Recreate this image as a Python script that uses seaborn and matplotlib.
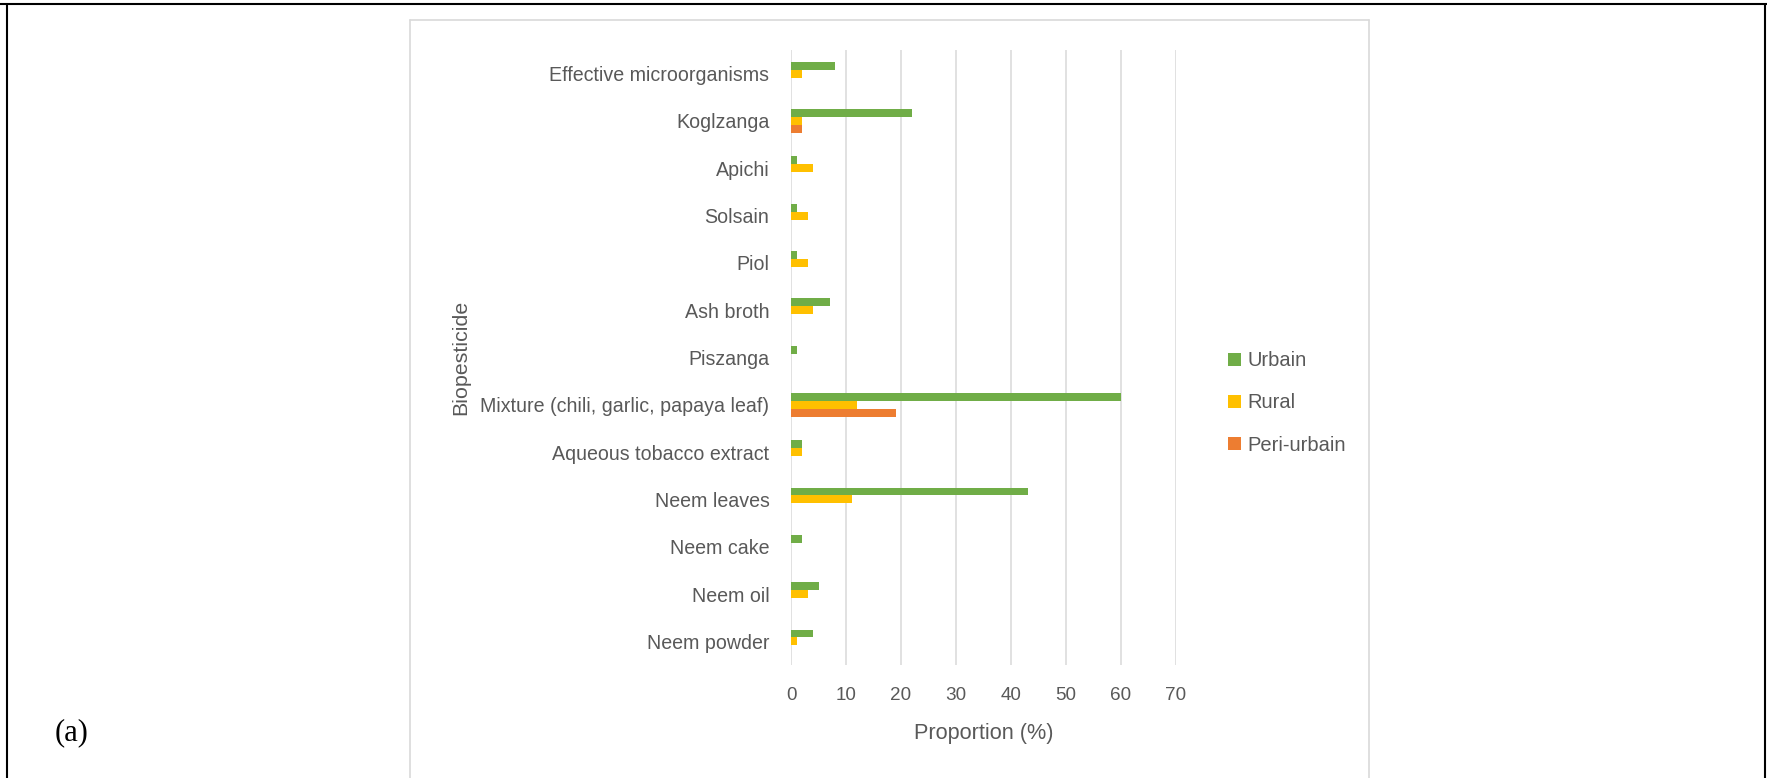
import matplotlib
matplotlib.use("Agg")
import matplotlib.pyplot as plt
from matplotlib.lines import Line2D
from matplotlib.patches import Patch
import seaborn as sns
import pandas as pd

# Biopesticides used, listed top to bottom
biopesticides = [
    "Effective microorganisms",
    "Koglzanga",
    "Apichi",
    "Solsain",
    "Piol",
    "Ash broth",
    "Piszanga",
    "Mixture (chili, garlic, papaya leaf)",
    "Aqueous tobacco extract",
    "Neem leaves",
    "Neem cake",
    "Neem oil",
    "Neem powder",
]
areas = ["Urbain", "Rural", "Peri-urbain"]

# Proportion of producers (%) per area
urbain = [8, 22, 1, 1, 1, 7, 1, 60, 2, 43, 2, 5, 4]
rural = [2, 2, 4, 3, 3, 4, 0, 12, 2, 11, 0, 3, 1]
peri_urbain = [0, 2, 0, 0, 0, 0, 0, 19, 0, 0, 0, 0, 0]

x_ticks = [0, 10, 20, 30, 40, 50, 60, 70]

colors = {"Urbain": "#70AD47", "Rural": "#FFC000", "Peri-urbain": "#ED7D31"}

df = pd.DataFrame({
    "Biopesticide": biopesticides * 3,
    "Area": [areas[0]] * len(urbain) + [areas[1]] * len(rural) + [areas[2]] * len(peri_urbain),
    "Proportion": urbain + rural + peri_urbain,
})

sns.set_theme(style="white")
plt.rcParams["font.family"] = ["Liberation Sans", "DejaVu Sans"]

W, H = 1767, 778
fig = plt.figure(figsize=(W / 100, H / 100), dpi=100)
ax = fig.add_axes([791 / W, 1 - 665 / H, (1176 - 791) / W, (665 - 50) / H])

sns.barplot(
    data=df, y="Biopesticide", x="Proportion", hue="Area",
    order=biopesticides, hue_order=areas, palette=colors, saturation=1,
    orient="h", width=0.5, linewidth=0, ax=ax, legend=False,
)

ax.set_xlim(0, 70)
ax.set_xticks(x_ticks)
ax.set_xticklabels([str(t) for t in x_ticks])
ax.set_ylim(len(biopesticides) - 0.5, -0.5)

ax.grid(axis="x", color="#D9D9D9", linewidth=1.1)
ax.grid(axis="y", visible=False)
ax.set_axisbelow(True)
for s in ax.spines.values():
    s.set_visible(False)

grey = "#595959"
ax.tick_params(axis="x", length=0, pad=16, labelsize=13.6, labelcolor=grey)
ax.tick_params(axis="y", length=0, pad=15.5, labelsize=14.1, labelcolor=grey)

ax.set_xlabel("Proportion (%)", fontsize=15.6, color=grey)
ax.set_ylabel("Biopesticide", fontsize=15.4, color=grey)
ax.yaxis.set_label_coords((461 - 791) / (1176 - 791), 0.5)
ax.xaxis.set_label_coords(0.5, -(734 - 665) / (665 - 50))
ax.xaxis.label.set_va("center")
ax.yaxis.label.set_va("center")

handles = [Patch(facecolor=colors[a], edgecolor="none", label=a) for a in areas]
fig.legend(
    handles=handles, loc="center left",
    bbox_to_anchor=(1228 / W, 1 - 403 / H), frameon=False,
    prop={"size": 14.5}, labelcolor=grey,
    handlelength=0.63, handleheight=0.63, handletextpad=0.32,
    borderpad=0, borderaxespad=0, labelspacing=1.15,
)

# Panel label
fig.text(55 / W, 1 - 733 / H, "(a)", fontsize=22, family=["Liberation Serif", "DejaVu Serif"],
         color="black", ha="left", va="center")

# Chart area frame (open at the bottom)
gc = "#D9D9D9"
fig.add_artist(Line2D([410 / W, 410 / W], [0, 1 - 20 / H], color=gc, lw=1.2))
fig.add_artist(Line2D([410 / W, 1369 / W], [1 - 20 / H, 1 - 20 / H], color=gc, lw=1.2))
fig.add_artist(Line2D([1369 / W, 1369 / W], [0, 1 - 20 / H], color=gc, lw=1.2))

# Outer page border
fig.add_artist(Line2D([7 / W, 7 / W], [0, 1 - 4 / H], color="black", lw=1.5))
fig.add_artist(Line2D([0, 1], [1 - 4 / H, 1 - 4 / H], color="black", lw=1.5))
fig.add_artist(Line2D([1765 / W, 1765 / W], [0, 1 - 4 / H], color="black", lw=1.5))

fig.savefig("out.png", dpi=100, facecolor="white")
